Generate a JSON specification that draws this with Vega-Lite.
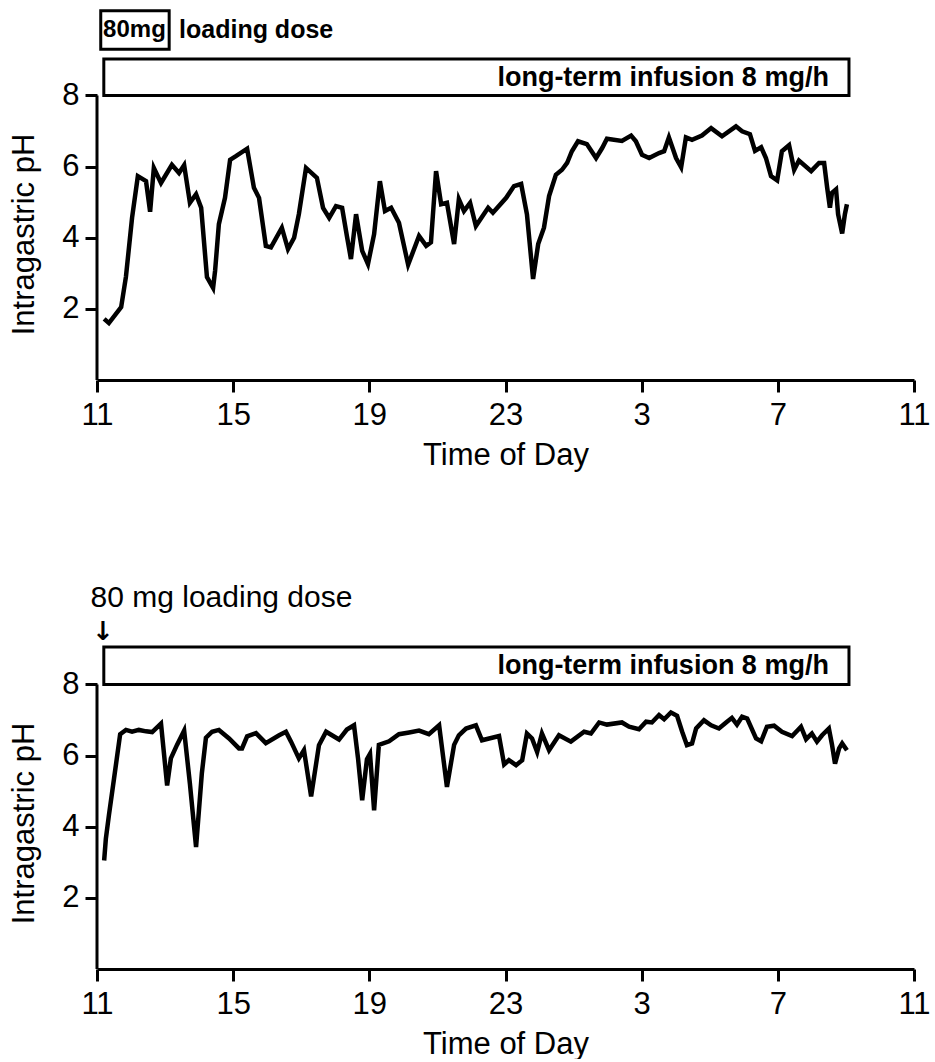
{
  "$schema": "https://vega.github.io/schema/vega-lite/v6.json",
  "background": "white",
  "padding": {"left": 8, "top": 9, "right": 2, "bottom": 0},
  "spacing": 112,
  "config": {
    "view": {"stroke": null},
    "font": "Liberation Sans",
    "axis": {
      "grid": false,
      "domainColor": "black",
      "domainWidth": 3,
      "tickColor": "black",
      "tickWidth": 3,
      "tickSize": 12,
      "labelColor": "black",
      "labelFont": "Liberation Sans",
      "labelFontSize": 31,
      "titleFont": "Liberation Sans",
      "titleFontSize": 31,
      "titleFontWeight": "normal",
      "titleColor": "black"
    }
  },
  "datasets": {
    "top": [
      {"t": 11.21, "ph": 1.72}, {"t": 11.35, "ph": 1.6}, {"t": 11.71, "ph": 2.05}, {"t": 11.85, "ph": 2.9},
      {"t": 12.03, "ph": 4.56}, {"t": 12.2, "ph": 5.73}, {"t": 12.44, "ph": 5.59}, {"t": 12.56, "ph": 4.73},
      {"t": 12.67, "ph": 5.96}, {"t": 12.88, "ph": 5.54}, {"t": 13.2, "ph": 6.05}, {"t": 13.41, "ph": 5.82},
      {"t": 13.56, "ph": 6.04}, {"t": 13.73, "ph": 4.98}, {"t": 13.91, "ph": 5.22}, {"t": 14.06, "ph": 4.84},
      {"t": 14.23, "ph": 2.89}, {"t": 14.41, "ph": 2.59}, {"t": 14.47, "ph": 3.08}, {"t": 14.58, "ph": 4.38},
      {"t": 14.76, "ph": 5.12}, {"t": 14.91, "ph": 6.19}, {"t": 15.08, "ph": 6.29}, {"t": 15.41, "ph": 6.5},
      {"t": 15.61, "ph": 5.4}, {"t": 15.76, "ph": 5.12}, {"t": 15.96, "ph": 3.77}, {"t": 16.11, "ph": 3.73},
      {"t": 16.43, "ph": 4.28}, {"t": 16.61, "ph": 3.68}, {"t": 16.79, "ph": 4.0}, {"t": 16.93, "ph": 4.66},
      {"t": 17.14, "ph": 5.96}, {"t": 17.46, "ph": 5.68}, {"t": 17.64, "ph": 4.84}, {"t": 17.82, "ph": 4.56},
      {"t": 18.02, "ph": 4.89}, {"t": 18.2, "ph": 4.84}, {"t": 18.34, "ph": 4.05}, {"t": 18.46, "ph": 3.4},
      {"t": 18.61, "ph": 4.66}, {"t": 18.79, "ph": 3.63}, {"t": 18.96, "ph": 3.26}, {"t": 19.14, "ph": 4.1},
      {"t": 19.31, "ph": 5.59}, {"t": 19.46, "ph": 4.75}, {"t": 19.64, "ph": 4.84}, {"t": 19.87, "ph": 4.42},
      {"t": 20.14, "ph": 3.24}, {"t": 20.46, "ph": 4.05}, {"t": 20.67, "ph": 3.77}, {"t": 20.81, "ph": 3.87},
      {"t": 20.96, "ph": 5.87}, {"t": 21.11, "ph": 4.94}, {"t": 21.28, "ph": 4.98}, {"t": 21.49, "ph": 3.82},
      {"t": 21.63, "ph": 5.08}, {"t": 21.78, "ph": 4.75}, {"t": 21.96, "ph": 4.98}, {"t": 22.13, "ph": 4.33},
      {"t": 22.49, "ph": 4.84}, {"t": 22.63, "ph": 4.7}, {"t": 23.02, "ph": 5.12}, {"t": 23.25, "ph": 5.45},
      {"t": 23.46, "ph": 5.51}, {"t": 23.63, "ph": 4.66}, {"t": 23.81, "ph": 2.84}, {"t": 23.96, "ph": 3.82},
      {"t": 24.13, "ph": 4.28}, {"t": 24.28, "ph": 5.17}, {"t": 24.48, "ph": 5.77}, {"t": 24.66, "ph": 5.91},
      {"t": 24.81, "ph": 6.1}, {"t": 24.95, "ph": 6.43}, {"t": 25.13, "ph": 6.71}, {"t": 25.39, "ph": 6.63},
      {"t": 25.66, "ph": 6.24}, {"t": 25.84, "ph": 6.52}, {"t": 25.98, "ph": 6.78}, {"t": 26.42, "ph": 6.72},
      {"t": 26.69, "ph": 6.87}, {"t": 26.83, "ph": 6.71}, {"t": 27.01, "ph": 6.33}, {"t": 27.22, "ph": 6.24},
      {"t": 27.51, "ph": 6.38}, {"t": 27.66, "ph": 6.43}, {"t": 27.8, "ph": 6.82}, {"t": 28.01, "ph": 6.24},
      {"t": 28.16, "ph": 5.98}, {"t": 28.3, "ph": 6.82}, {"t": 28.48, "ph": 6.75}, {"t": 28.77, "ph": 6.87},
      {"t": 29.04, "ph": 7.08}, {"t": 29.36, "ph": 6.85}, {"t": 29.77, "ph": 7.13}, {"t": 29.95, "ph": 6.99},
      {"t": 30.18, "ph": 6.91}, {"t": 30.33, "ph": 6.44}, {"t": 30.51, "ph": 6.54}, {"t": 30.65, "ph": 6.24},
      {"t": 30.8, "ph": 5.73}, {"t": 30.98, "ph": 5.61}, {"t": 31.12, "ph": 6.43}, {"t": 31.33, "ph": 6.6},
      {"t": 31.48, "ph": 5.91}, {"t": 31.62, "ph": 6.17}, {"t": 31.98, "ph": 5.87}, {"t": 32.21, "ph": 6.1},
      {"t": 32.36, "ph": 6.1}, {"t": 32.45, "ph": 5.4}, {"t": 32.53, "ph": 4.84}, {"t": 32.59, "ph": 5.26},
      {"t": 32.71, "ph": 5.36}, {"t": 32.77, "ph": 4.66}, {"t": 32.89, "ph": 4.12}, {"t": 32.97, "ph": 4.66},
      {"t": 33.03, "ph": 4.94}
    ],
    "bottom": [
      {"t": 11.21, "ph": 3.05}, {"t": 11.26, "ph": 3.66}, {"t": 11.35, "ph": 4.32}, {"t": 11.5, "ph": 5.35},
      {"t": 11.68, "ph": 6.6}, {"t": 11.85, "ph": 6.72}, {"t": 12.03, "ph": 6.67}, {"t": 12.23, "ph": 6.72},
      {"t": 12.44, "ph": 6.68}, {"t": 12.62, "ph": 6.66}, {"t": 12.88, "ph": 6.9}, {"t": 13.06, "ph": 5.16},
      {"t": 13.17, "ph": 5.92}, {"t": 13.35, "ph": 6.3}, {"t": 13.56, "ph": 6.7}, {"t": 13.73, "ph": 5.2},
      {"t": 13.91, "ph": 3.43}, {"t": 14.08, "ph": 5.5}, {"t": 14.2, "ph": 6.5}, {"t": 14.38, "ph": 6.67},
      {"t": 14.58, "ph": 6.72}, {"t": 14.88, "ph": 6.48}, {"t": 15.17, "ph": 6.2}, {"t": 15.26, "ph": 6.2},
      {"t": 15.41, "ph": 6.54}, {"t": 15.67, "ph": 6.63}, {"t": 15.96, "ph": 6.35}, {"t": 16.35, "ph": 6.57},
      {"t": 16.55, "ph": 6.67}, {"t": 16.7, "ph": 6.39}, {"t": 16.93, "ph": 5.92}, {"t": 17.08, "ph": 6.15},
      {"t": 17.29, "ph": 4.85}, {"t": 17.52, "ph": 6.29}, {"t": 17.73, "ph": 6.67}, {"t": 18.11, "ph": 6.45},
      {"t": 18.34, "ph": 6.73}, {"t": 18.55, "ph": 6.85}, {"t": 18.67, "ph": 5.9}, {"t": 18.79, "ph": 4.74},
      {"t": 18.93, "ph": 5.9}, {"t": 19.02, "ph": 6.05}, {"t": 19.14, "ph": 4.46}, {"t": 19.28, "ph": 6.3},
      {"t": 19.58, "ph": 6.4}, {"t": 19.87, "ph": 6.6}, {"t": 20.17, "ph": 6.65}, {"t": 20.46, "ph": 6.7},
      {"t": 20.75, "ph": 6.6}, {"t": 21.05, "ph": 6.85}, {"t": 21.28, "ph": 5.12}, {"t": 21.49, "ph": 6.3},
      {"t": 21.63, "ph": 6.57}, {"t": 21.84, "ph": 6.76}, {"t": 22.13, "ph": 6.85}, {"t": 22.31, "ph": 6.43},
      {"t": 22.81, "ph": 6.55}, {"t": 22.96, "ph": 5.75}, {"t": 23.1, "ph": 5.87}, {"t": 23.31, "ph": 5.73},
      {"t": 23.49, "ph": 5.87}, {"t": 23.63, "ph": 6.62}, {"t": 23.78, "ph": 6.48}, {"t": 23.93, "ph": 6.1},
      {"t": 24.07, "ph": 6.62}, {"t": 24.28, "ph": 6.15}, {"t": 24.57, "ph": 6.57}, {"t": 24.92, "ph": 6.39},
      {"t": 25.31, "ph": 6.67}, {"t": 25.51, "ph": 6.62}, {"t": 25.75, "ph": 6.93}, {"t": 25.98, "ph": 6.87},
      {"t": 26.42, "ph": 6.93}, {"t": 26.63, "ph": 6.81}, {"t": 26.92, "ph": 6.74}, {"t": 27.13, "ph": 6.95},
      {"t": 27.3, "ph": 6.93}, {"t": 27.51, "ph": 7.14}, {"t": 27.66, "ph": 7.02}, {"t": 27.86, "ph": 7.21},
      {"t": 28.04, "ph": 7.12}, {"t": 28.19, "ph": 6.67}, {"t": 28.33, "ph": 6.29}, {"t": 28.48, "ph": 6.34},
      {"t": 28.6, "ph": 6.76}, {"t": 28.83, "ph": 6.99}, {"t": 29.04, "ph": 6.85}, {"t": 29.27, "ph": 6.76},
      {"t": 29.48, "ph": 6.93}, {"t": 29.65, "ph": 7.06}, {"t": 29.8, "ph": 6.87}, {"t": 29.95, "ph": 7.09},
      {"t": 30.1, "ph": 7.04}, {"t": 30.36, "ph": 6.48}, {"t": 30.51, "ph": 6.4}, {"t": 30.68, "ph": 6.81},
      {"t": 30.89, "ph": 6.84}, {"t": 31.12, "ph": 6.67}, {"t": 31.42, "ph": 6.55}, {"t": 31.68, "ph": 6.81},
      {"t": 31.83, "ph": 6.46}, {"t": 32.0, "ph": 6.62}, {"t": 32.15, "ph": 6.39}, {"t": 32.3, "ph": 6.57},
      {"t": 32.5, "ph": 6.76}, {"t": 32.59, "ph": 6.31}, {"t": 32.68, "ph": 5.77}, {"t": 32.8, "ph": 6.2},
      {"t": 32.89, "ph": 6.34}, {"t": 33.03, "ph": 6.15}
    ]
  },
  "vconcat": [
    {
      "width": 817,
      "height": 370,
      "layer": [
        {
          "data": {"name": "top"},
          "mark": {"type": "line", "color": "black", "strokeWidth": 4.5},
          "encoding": {
            "x": {
              "field": "t", "type": "quantitative",
              "scale": {"domain": [11, 35], "nice": false, "zero": false},
              "axis": {"title": "Time of Day", "values": [11, 15, 19, 23, 27, 31, 35], "labelExpr": "'' + (datum.value > 24 ? datum.value - 24 : datum.value)", "labelPadding": 8, "titlePadding": 10, "labelFlush": false, "labelOverlap": false}
            },
            "y": {
              "field": "ph", "type": "quantitative",
              "scale": {"domain": [0, 10.4], "nice": false, "zero": false},
              "axis": {"title": "Intragastric pH", "values": [2, 4, 6, 8], "domain": false, "labelPadding": 6, "titlePadding": 21, "titleY": 224}
            }
          }
        },
        {
          "data": {"values": [{"t": 11, "ph": 0, "ph2": 8}]},
          "mark": {"type": "rule", "color": "black", "strokeWidth": 3},
          "encoding": {
            "x": {"field": "t", "type": "quantitative"},
            "y": {"field": "ph", "type": "quantitative"},
            "y2": {"field": "ph2"}
          }
        },
        {
          "data": {"values": [{"t": 11.2, "t2": 33.09, "ph": 8, "ph2": 9.02}]},
          "mark": {"type": "rect", "fill": "white", "stroke": "black", "strokeWidth": 3},
          "encoding": {
            "x": {"field": "t", "type": "quantitative"},
            "x2": {"field": "t2"},
            "y": {"field": "ph", "type": "quantitative"},
            "y2": {"field": "ph2"}
          }
        },
        {
          "data": {"values": [{"t": 32.5, "ph": 8.5, "label": "long-term infusion 8 mg/h"}]},
          "mark": {"type": "text", "align": "right", "baseline": "middle", "fontSize": 27, "fontWeight": "bold", "font": "Liberation Sans", "color": "black"},
          "encoding": {
            "x": {"field": "t", "type": "quantitative"},
            "y": {"field": "ph", "type": "quantitative"},
            "text": {"field": "label"}
          }
        },
        {
          "data": {"values": [{"t": 11.11, "t2": 13.12, "ph": 9.3, "ph2": 10.38}]},
          "mark": {"type": "rect", "fill": null, "stroke": "black", "strokeWidth": 3},
          "encoding": {
            "x": {"field": "t", "type": "quantitative"},
            "x2": {"field": "t2"},
            "y": {"field": "ph", "type": "quantitative"},
            "y2": {"field": "ph2"}
          }
        },
        {
          "data": {"values": [{"t": 12.1, "ph": 9.84, "label": "80mg"}]},
          "mark": {"type": "text", "align": "center", "baseline": "middle", "fontSize": 24, "fontWeight": "bold", "font": "Liberation Sans", "color": "black"},
          "encoding": {
            "x": {"field": "t", "type": "quantitative"},
            "y": {"field": "ph", "type": "quantitative"},
            "text": {"field": "label"}
          }
        },
        {
          "data": {"values": [{"t": 13.41, "ph": 9.84, "label": "loading dose"}]},
          "mark": {"type": "text", "align": "left", "baseline": "middle", "fontSize": 25, "fontWeight": "bold", "font": "Liberation Sans", "color": "black"},
          "encoding": {
            "x": {"field": "t", "type": "quantitative"},
            "y": {"field": "ph", "type": "quantitative"},
            "text": {"field": "label"}
          }
        }
      ]
    },
    {
      "width": 817,
      "height": 370,
      "layer": [
        {
          "data": {"name": "bottom"},
          "mark": {"type": "line", "color": "black", "strokeWidth": 4.5},
          "encoding": {
            "x": {
              "field": "t", "type": "quantitative",
              "scale": {"domain": [11, 35], "nice": false, "zero": false},
              "axis": {"title": "Time of Day", "values": [11, 15, 19, 23, 27, 31, 35], "labelExpr": "'' + (datum.value > 24 ? datum.value - 24 : datum.value)", "labelPadding": 8, "titlePadding": 10, "labelFlush": false, "labelOverlap": false}
            },
            "y": {
              "field": "ph", "type": "quantitative",
              "scale": {"domain": [0, 10.4], "nice": false, "zero": false},
              "axis": {"title": "Intragastric pH", "values": [2, 4, 6, 8], "domain": false, "labelPadding": 6, "titlePadding": 21, "titleY": 224}
            }
          }
        },
        {
          "data": {"values": [{"t": 11, "ph": 0, "ph2": 8}]},
          "mark": {"type": "rule", "color": "black", "strokeWidth": 3},
          "encoding": {
            "x": {"field": "t", "type": "quantitative"},
            "y": {"field": "ph", "type": "quantitative"},
            "y2": {"field": "ph2"}
          }
        },
        {
          "data": {"values": [{"t": 11.2, "t2": 33.09, "ph": 8, "ph2": 9.05}]},
          "mark": {"type": "rect", "fill": "white", "stroke": "black", "strokeWidth": 3},
          "encoding": {
            "x": {"field": "t", "type": "quantitative"},
            "x2": {"field": "t2"},
            "y": {"field": "ph", "type": "quantitative"},
            "y2": {"field": "ph2"}
          }
        },
        {
          "data": {"values": [{"t": 32.5, "ph": 8.52, "label": "long-term infusion 8 mg/h"}]},
          "mark": {"type": "text", "align": "right", "baseline": "middle", "fontSize": 27, "fontWeight": "bold", "font": "Liberation Sans", "color": "black"},
          "encoding": {
            "x": {"field": "t", "type": "quantitative"},
            "y": {"field": "ph", "type": "quantitative"},
            "text": {"field": "label"}
          }
        },
        {
          "data": {"values": [{"t": 10.81, "ph": 10.44, "label": "80 mg loading dose"}]},
          "mark": {"type": "text", "align": "left", "baseline": "middle", "fontSize": 30, "font": "Liberation Sans", "color": "black"},
          "encoding": {
            "x": {"field": "t", "type": "quantitative"},
            "y": {"field": "ph", "type": "quantitative"},
            "text": {"field": "label"}
          }
        },
        {
          "data": {"values": [{"t": 11.18, "ph": 9.47, "label": "↓"}]},
          "mark": {"type": "text", "align": "center", "baseline": "middle", "fontSize": 26, "fontWeight": "bold", "font": "DejaVu Sans", "color": "black"},
          "encoding": {
            "x": {"field": "t", "type": "quantitative"},
            "y": {"field": "ph", "type": "quantitative"},
            "text": {"field": "label"}
          }
        }
      ]
    }
  ]
}
